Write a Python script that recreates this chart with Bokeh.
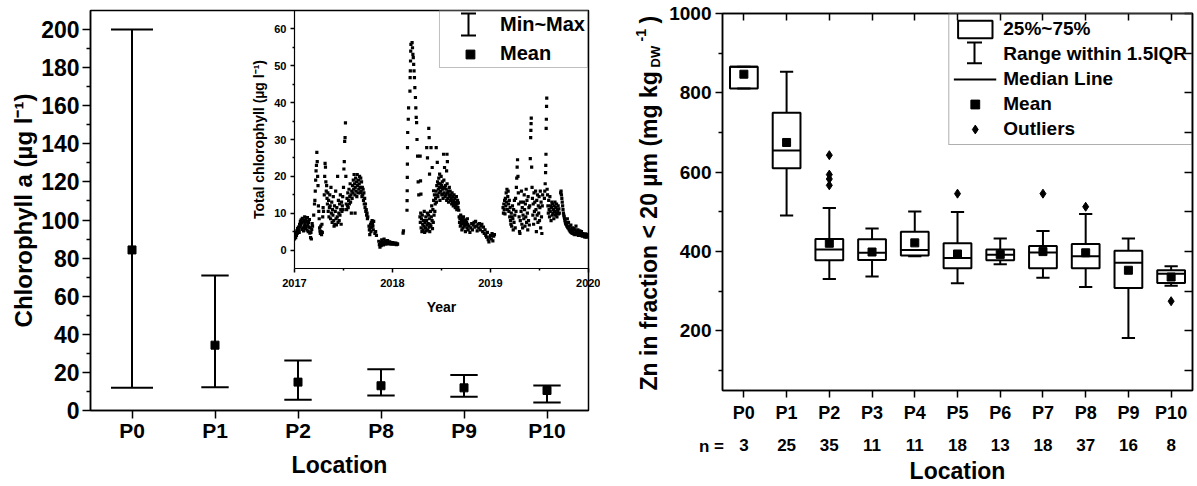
import numpy as np
from bokeh.plotting import figure
from bokeh.models import (ColumnDataSource, FixedTicker, Legend, LegendItem, Label,
                          LinearAxis, Range1d, Arrow, TeeHead)
from bokeh.embed import file_html
from bokeh.resources import INLINE

FONT = "Liberation Sans"

# ---------------- data: left panel (chlorophyll a) ----------------
chl_locations = ["P0", "P1", "P2", "P8", "P9", "P10"]
chl_min = [12.0, 12.2, 5.6, 7.9, 7.2, 4.2]
chl_max = [200.0, 70.9, 26.2, 21.7, 18.7, 13.1]
chl_mean = [84.3, 34.3, 14.9, 13.0, 11.9, 10.5]
chl_yticks = list(range(0, 201, 20))
chl_yminor = list(range(10, 200, 20))

# ---------------- data: inset (total chlorophyll time series) ----------------
inset_2017 = [
    (2017.000, 3.0), (2017.004, 3.6), (2017.008, 4.2), (2017.012, 3.4), (2017.016, 4.8), (2017.020, 4.0),
    (2017.024, 5.2), (2017.028, 4.5), (2017.032, 5.8), (2017.036, 5.0), (2017.040, 6.2), (2017.044, 5.5),
    (2017.048, 4.8), (2017.052, 7.0), (2017.056, 6.3), (2017.060, 7.8), (2017.064, 6.8), (2017.068, 8.2),
    (2017.072, 7.4), (2017.076, 5.6), (2017.080, 8.6), (2017.084, 6.0), (2017.088, 7.6), (2017.092, 5.2),
    (2017.096, 8.0), (2017.100, 6.6), (2017.104, 9.0), (2017.108, 7.2), (2017.112, 5.8), (2017.116, 8.4),
    (2017.120, 6.4), (2017.124, 7.8), (2017.128, 5.4), (2017.132, 8.8), (2017.136, 6.9), (2017.140, 5.0),
    (2017.144, 7.5), (2017.148, 6.2), (2017.152, 8.3), (2017.156, 4.6), (2017.160, 6.0), (2017.164, 3.4),
    (2017.168, 4.8), (2017.172, 3.0), (2017.176, 5.6), (2017.180, 7.2), (2017.184, 6.5), (2017.196, 9.5),
    (2017.204, 12.5), (2017.208, 13.5), (2017.212, 16.0), (2017.216, 19.0), (2017.220, 21.5), (2017.224, 23.0),
    (2017.228, 26.5), (2017.232, 24.0), (2017.236, 20.0), (2017.240, 17.5), (2017.244, 12.0), (2017.248, 10.5),
    (2017.252, 8.5), (2017.256, 6.0), (2017.260, 5.2), (2017.264, 4.5), (2017.268, 6.5), (2017.272, 5.0),
    (2017.276, 4.2), (2017.280, 7.0), (2017.284, 4.8), (2017.288, 9.0), (2017.292, 11.5), (2017.296, 10.5),
    (2017.304, 15.0), (2017.308, 20.0), (2017.312, 23.5), (2017.316, 22.5), (2017.320, 18.5), (2017.324, 16.0),
    (2017.328, 17.5), (2017.332, 14.0), (2017.336, 12.5), (2017.340, 15.5), (2017.344, 10.5), (2017.348, 13.5),
    (2017.352, 9.0), (2017.356, 11.5), (2017.360, 15.0), (2017.364, 12.0), (2017.368, 8.5), (2017.372, 17.0),
    (2017.376, 10.0), (2017.380, 13.0), (2017.384, 7.5), (2017.388, 11.0), (2017.392, 9.5), (2017.396, 14.5),
    (2017.400, 8.0), (2017.404, 6.5), (2017.408, 12.0), (2017.412, 7.0), (2017.416, 10.5), (2017.420, 16.0),
    (2017.424, 8.5), (2017.428, 6.8), (2017.432, 11.5), (2017.436, 9.0), (2017.440, 20.0), (2017.444, 7.5),
    (2017.448, 13.5), (2017.452, 10.0), (2017.456, 8.0), (2017.460, 12.5), (2017.464, 9.5), (2017.468, 15.0),
    (2017.472, 11.0), (2017.476, 7.0), (2017.480, 13.0), (2017.484, 10.5), (2017.488, 12.0), (2017.492, 14.5),
    (2017.496, 11.0), (2017.500, 17.0), (2017.504, 22.0), (2017.508, 24.0), (2017.512, 29.5), (2017.516, 30.5),
    (2017.520, 34.5), (2017.524, 20.0), (2017.528, 12.5), (2017.532, 11.0), (2017.536, 14.0), (2017.540, 12.0),
    (2017.544, 15.5), (2017.548, 11.5), (2017.552, 13.5), (2017.556, 16.5), (2017.560, 12.5), (2017.564, 14.5),
    (2017.568, 18.0), (2017.572, 13.0), (2017.576, 15.0), (2017.580, 10.0), (2017.584, 16.0), (2017.588, 14.0),
    (2017.592, 17.5), (2017.596, 15.5), (2017.600, 19.0), (2017.604, 16.5), (2017.608, 20.5), (2017.612, 18.0),
    (2017.616, 15.0), (2017.618, 10.0), (2017.620, 17.0), (2017.624, 19.5), (2017.628, 16.0), (2017.632, 18.5),
    (2017.636, 14.5), (2017.640, 20.5), (2017.644, 17.5), (2017.648, 15.5), (2017.652, 19.0), (2017.656, 16.5),
    (2017.660, 18.0), (2017.664, 20.0), (2017.668, 17.0), (2017.672, 15.5), (2017.676, 19.5), (2017.680, 16.0),
    (2017.684, 18.5), (2017.688, 14.5), (2017.692, 17.0), (2017.696, 15.0), (2017.700, 16.5), (2017.704, 13.5),
    (2017.708, 15.5), (2017.712, 12.5), (2017.716, 14.0), (2017.720, 11.5), (2017.724, 12.5), (2017.728, 10.5),
    (2017.732, 11.0), (2017.736, 9.5), (2017.740, 10.0), (2017.744, 8.5), (2017.748, 9.0), (2017.760, 6.5),
    (2017.764, 5.5), (2017.768, 4.2), (2017.772, 6.0), (2017.776, 7.0), (2017.780, 5.0), (2017.784, 7.5),
    (2017.788, 6.2), (2017.792, 8.0), (2017.796, 7.0), (2017.800, 6.5), (2017.804, 5.5), (2017.808, 7.8),
    (2017.820, 4.5), (2017.828, 5.0), (2017.836, 4.0), (2017.860, 2.4), (2017.866, 1.5), (2017.872, 0.8),
    (2017.878, 2.0), (2017.884, 1.2), (2017.890, 2.8), (2017.896, 1.6), (2017.902, 2.2), (2017.908, 1.4),
    (2017.914, 3.0), (2017.920, 1.9), (2017.926, 2.5), (2017.932, 1.6), (2017.938, 2.3), (2017.944, 1.8),
    (2017.950, 2.6), (2017.956, 2.0), (2017.962, 1.7), (2017.968, 2.2), (2017.974, 1.9), (2017.980, 2.1),
    (2017.986, 1.6), (2017.992, 1.9), (2017.998, 2.0),
]
inset_2018 = [
    (2018.004, 1.7), (2018.010, 1.9), (2018.016, 1.6), (2018.022, 1.8), (2018.028, 1.7), (2018.034, 1.9),
    (2018.040, 1.5), (2018.046, 1.7), (2018.052, 1.6), (2018.108, 4.6), (2018.112, 5.2), (2018.148, 10.8),
    (2018.149, 13.4), (2018.150, 16.1), (2018.151, 19.7), (2018.152, 23.3), (2018.153, 27.8), (2018.155, 31.9),
    (2018.161, 35.5), (2018.164, 38.6), (2018.178, 43.1), (2018.180, 46.8), (2018.182, 48.6), (2018.184, 51.3),
    (2018.186, 54.0), (2018.188, 55.8), (2018.200, 56.3), (2018.204, 54.9), (2018.208, 53.1), (2018.212, 52.2),
    (2018.216, 50.4), (2018.220, 48.6), (2018.224, 46.8), (2018.228, 44.1), (2018.234, 41.4), (2018.238, 38.6),
    (2018.242, 36.0), (2018.246, 34.6), (2018.250, 30.0), (2018.256, 25.5), (2018.262, 18.5), (2018.268, 15.0),
    (2018.280, 9.0), (2018.284, 7.5), (2018.288, 10.0), (2018.292, 6.0), (2018.296, 8.5), (2018.300, 5.0),
    (2018.304, 9.5), (2018.308, 7.0), (2018.312, 5.5), (2018.316, 8.0), (2018.320, 6.5), (2018.324, 10.5),
    (2018.328, 4.8), (2018.332, 7.5), (2018.336, 6.0), (2018.340, 9.0), (2018.344, 5.2), (2018.348, 8.0),
    (2018.352, 6.8), (2018.356, 10.0), (2018.360, 5.5), (2018.364, 7.2), (2018.368, 9.5), (2018.372, 6.2),
    (2018.376, 8.5), (2018.380, 5.0), (2018.384, 7.0), (2018.388, 10.5), (2018.392, 6.5), (2018.396, 9.0),
    (2018.400, 12.0), (2018.404, 8.0), (2018.408, 5.8), (2018.412, 11.0), (2018.416, 7.5), (2018.420, 13.5),
    (2018.424, 9.5), (2018.428, 15.0), (2018.432, 10.5), (2018.436, 12.5), (2018.282, 25.5), (2018.286, 18.8),
    (2018.290, 15.2), (2018.349, 27.8), (2018.357, 25.0), (2018.370, 33.0), (2018.374, 30.5), (2018.378, 20.6),
    (2018.393, 27.8), (2018.405, 22.4), (2018.419, 16.1), (2018.446, 27.8), (2018.457, 23.8), (2018.471, 18.0),
    (2018.481, 20.6), (2018.493, 17.0), (2018.509, 15.2), (2018.521, 26.0), (2018.531, 22.4), (2018.440, 14.0),
    (2018.444, 16.0), (2018.448, 13.0), (2018.452, 17.5), (2018.456, 15.0), (2018.460, 18.5), (2018.464, 14.5),
    (2018.468, 16.5), (2018.472, 19.5), (2018.476, 15.5), (2018.480, 17.0), (2018.484, 13.5), (2018.488, 18.0),
    (2018.492, 16.0), (2018.496, 20.0), (2018.500, 17.5), (2018.504, 15.0), (2018.508, 18.5), (2018.512, 16.5),
    (2018.516, 14.0), (2018.520, 17.0), (2018.524, 19.0), (2018.528, 15.5), (2018.532, 16.8), (2018.536, 14.5),
    (2018.540, 17.5), (2018.544, 15.0), (2018.548, 16.5), (2018.552, 21.5), (2018.553, 13.5), (2018.556, 26.0),
    (2018.557, 18.0), (2018.560, 24.0), (2018.561, 15.5), (2018.564, 14.0), (2018.568, 16.0), (2018.572, 13.0),
    (2018.576, 15.0), (2018.580, 17.0), (2018.584, 14.5), (2018.588, 16.0), (2018.592, 13.5), (2018.596, 15.0),
    (2018.600, 14.0), (2018.604, 12.5), (2018.608, 15.5), (2018.612, 13.0), (2018.616, 14.5), (2018.620, 12.0),
    (2018.624, 13.5), (2018.628, 15.0), (2018.632, 12.5), (2018.636, 14.0), (2018.640, 11.5), (2018.644, 13.0),
    (2018.648, 12.0), (2018.652, 14.5), (2018.656, 11.0), (2018.660, 12.5), (2018.664, 13.5), (2018.668, 11.5),
    (2018.672, 12.8), (2018.676, 10.8), (2018.680, 9.0), (2018.684, 7.5), (2018.688, 8.5), (2018.692, 6.5),
    (2018.696, 9.5), (2018.700, 7.0), (2018.704, 8.0), (2018.708, 5.5), (2018.712, 8.8), (2018.716, 7.2),
    (2018.720, 6.0), (2018.724, 9.0), (2018.728, 7.8), (2018.732, 6.5), (2018.736, 8.2), (2018.740, 7.0),
    (2018.744, 5.0), (2018.748, 8.0), (2018.752, 6.8), (2018.756, 7.5), (2018.760, 6.0), (2018.764, 8.5),
    (2018.768, 7.0), (2018.772, 5.5), (2018.780, 6.5), (2018.790, 4.8), (2018.800, 6.0), (2018.808, 7.2),
    (2018.816, 5.5), (2018.824, 6.8), (2018.832, 7.5), (2018.840, 6.2), (2018.848, 7.8), (2018.856, 6.5),
    (2018.864, 5.2), (2018.872, 7.0), (2018.880, 6.0), (2018.888, 7.2), (2018.896, 5.5), (2018.904, 6.5),
    (2018.912, 7.0), (2018.920, 5.0), (2018.928, 6.2), (2018.936, 4.5), (2018.944, 5.5), (2018.952, 4.0),
    (2018.960, 3.5), (2018.968, 4.8), (2018.976, 2.8), (2018.984, 2.2), (2018.992, 3.5),
]
inset_2019 = [
    (2019.000, 4.0), (2019.008, 3.0), (2019.016, 4.5), (2019.024, 2.5), (2019.032, 3.8), (2019.040, 4.2),
    (2019.128, 11.5), (2019.132, 10.0), (2019.136, 12.5), (2019.140, 11.0), (2019.144, 13.5), (2019.148, 9.8),
    (2019.152, 14.0), (2019.156, 12.0), (2019.160, 15.5), (2019.164, 13.0), (2019.168, 16.5), (2019.172, 11.0),
    (2019.176, 14.5), (2019.180, 16.0), (2019.184, 12.5), (2019.188, 10.5), (2019.192, 13.5), (2019.196, 9.0),
    (2019.200, 11.5), (2019.204, 8.0), (2019.208, 7.0), (2019.212, 10.0), (2019.216, 6.5), (2019.220, 9.0),
    (2019.224, 12.0), (2019.228, 8.5), (2019.232, 5.5), (2019.236, 11.0), (2019.240, 7.5), (2019.244, 13.5),
    (2019.248, 9.5), (2019.252, 6.0), (2019.256, 14.0), (2019.260, 10.5), (2019.264, 17.0), (2019.268, 19.5),
    (2019.272, 22.5), (2019.276, 24.5), (2019.280, 20.0), (2019.284, 15.5), (2019.288, 12.5), (2019.292, 9.0),
    (2019.296, 5.0), (2019.300, 4.5), (2019.304, 8.0), (2019.308, 13.0), (2019.312, 10.5), (2019.316, 16.0),
    (2019.320, 7.0), (2019.324, 11.5), (2019.328, 6.0), (2019.332, 9.5), (2019.336, 13.0), (2019.340, 8.5),
    (2019.344, 15.0), (2019.348, 11.0), (2019.352, 6.5), (2019.356, 12.5), (2019.360, 9.0), (2019.364, 16.5),
    (2019.368, 7.5), (2019.372, 13.5), (2019.376, 10.0), (2019.380, 5.5), (2019.384, 14.5), (2019.388, 8.0),
    (2019.392, 11.5), (2019.396, 6.8), (2019.400, 12.0), (2019.406, 24.8), (2019.410, 30.5), (2019.412, 32.5),
    (2019.414, 34.3), (2019.416, 35.8), (2019.420, 22.5), (2019.424, 17.0), (2019.428, 14.0), (2019.432, 9.5),
    (2019.436, 12.5), (2019.440, 7.0), (2019.444, 15.5), (2019.448, 10.5), (2019.452, 13.0), (2019.456, 8.5),
    (2019.460, 16.0), (2019.464, 11.0), (2019.468, 5.0), (2019.472, 13.5), (2019.476, 9.5), (2019.480, 15.0),
    (2019.484, 7.5), (2019.488, 12.0), (2019.492, 10.0), (2019.496, 14.5), (2019.500, 8.0), (2019.504, 11.5),
    (2019.508, 16.0), (2019.512, 6.0), (2019.516, 13.0), (2019.520, 9.0), (2019.524, 4.5), (2019.528, 12.0),
    (2019.532, 15.0), (2019.550, 14.0), (2019.554, 16.0), (2019.558, 18.0), (2019.562, 21.0), (2019.564, 23.0),
    (2019.566, 26.0), (2019.568, 33.0), (2019.570, 35.5), (2019.572, 39.0), (2019.574, 41.2), (2019.578, 16.5),
    (2019.582, 15.0), (2019.586, 12.0), (2019.590, 10.0), (2019.594, 13.5), (2019.598, 11.0), (2019.602, 9.0),
    (2019.606, 14.5), (2019.610, 10.5), (2019.614, 12.0), (2019.618, 8.0), (2019.622, 11.5), (2019.626, 13.0),
    (2019.630, 9.5), (2019.634, 12.5), (2019.638, 10.0), (2019.642, 11.0), (2019.646, 8.5), (2019.650, 12.0),
    (2019.654, 10.5), (2019.658, 13.0), (2019.662, 9.5), (2019.666, 11.5), (2019.670, 10.0), (2019.674, 12.5),
    (2019.678, 9.0), (2019.682, 11.0), (2019.686, 10.5), (2019.690, 12.0), (2019.694, 9.8), (2019.698, 11.2),
    (2019.702, 10.0), (2019.716, 15.5), (2019.720, 16.0), (2019.724, 15.0), (2019.728, 14.0), (2019.732, 13.0),
    (2019.736, 12.0), (2019.740, 11.0), (2019.744, 10.0), (2019.748, 9.5), (2019.752, 9.0), (2019.756, 8.5),
    (2019.760, 8.0), (2019.764, 7.6), (2019.768, 7.2), (2019.772, 7.0), (2019.776, 6.8), (2019.780, 6.5),
    (2019.784, 8.5), (2019.788, 6.2), (2019.792, 6.0), (2019.796, 7.5), (2019.800, 5.8), (2019.804, 5.5),
    (2019.808, 6.5), (2019.812, 5.2), (2019.816, 5.0), (2019.820, 6.8), (2019.824, 4.8), (2019.828, 5.5),
    (2019.832, 4.6), (2019.836, 6.0), (2019.840, 4.5), (2019.844, 5.2), (2019.848, 4.4), (2019.852, 5.8),
    (2019.856, 4.5), (2019.860, 4.2), (2019.864, 5.5), (2019.868, 4.4), (2019.872, 6.5), (2019.876, 4.8),
    (2019.880, 5.0), (2019.884, 4.3), (2019.888, 4.6), (2019.892, 5.5), (2019.896, 4.0), (2019.900, 4.4),
    (2019.904, 4.8), (2019.908, 4.2), (2019.912, 5.2), (2019.916, 4.5), (2019.920, 4.0), (2019.924, 4.6),
    (2019.928, 5.0), (2019.932, 4.2), (2019.936, 3.8), (2019.940, 4.5), (2019.944, 4.0), (2019.948, 4.3),
    (2019.952, 3.9), (2019.956, 4.1), (2019.960, 3.6), (2019.964, 4.2), (2019.968, 3.8), (2019.972, 4.4),
    (2019.976, 3.5), (2019.980, 4.0), (2019.984, 3.8), (2019.988, 4.2), (2019.992, 3.6), (2019.996, 4.0),
    (2020.000, 3.8),
]
inset_xticks = [2017, 2018, 2019, 2020]
inset_xminor = [2017.5, 2018.5, 2019.5]
inset_yticks = [0, 10, 20, 30, 40, 50, 60]
inset_yminor = [5, 15, 25, 35, 45, 55]

# ---------------- data: right panel (Zn box plots) ----------------
zn_locations = ["P0", "P1", "P2", "P3", "P4", "P5", "P6", "P7", "P8", "P9", "P10"]
zn_n = [3, 25, 35, 11, 11, 18, 13, 18, 37, 16, 8]
zn_q1 = [811, 610, 378, 379, 390, 358, 378, 358, 358, 308, 321]
zn_median = [866, 655, 405, 397, 404, 384, 392, 398, 388, 372, 344]
zn_q3 = [866, 750, 432, 431, 450, 421, 405, 414, 419, 402, 353]
zn_mean = [847, 675, 421, 399, 422, 394, 393, 400, 397, 353, 336]
zn_whisker_low = [811, 491, 331, 337, 388, 320, 368, 334, 311, 182, 314]
zn_whisker_high = [866, 853, 510, 458, 501, 500, 433, 452, 495, 433, 363]
zn_outlier_loc = ["P2", "P2", "P2", "P2", "P5", "P7", "P8", "P10"]
zn_outlier_val = [643, 594, 583, 567, 546, 546, 513, 275]
zn_yticks = [200, 400, 600, 800, 1000]
zn_yminor = [100, 300, 500, 700, 900]
zn_right_ticks = [100, 200, 300, 400, 500, 600, 700, 800, 900, 1000]

# ---------------- layout geometry (page pixels, page origin top-left) ----------------
L_X0, L_W, L_H = 0, 600, 486
L_LEFT, L_RIGHT, L_TOP, L_BOTTOM = 90, 588, 10, 410
R_X0, R_W, R_H = 600, 597, 486
R_LEFT, R_RIGHT, R_TOP, R_BOTTOM = 722, 1192, 13, 391
L_XR, L_YR = (-0.5, 5.5), (0, 210)
R_XR, R_YR = (-0.5, 10.5), (50, 1000)


def lx(px):
    return L_XR[0] + (px - L_LEFT) * (L_XR[1] - L_XR[0]) / (L_RIGHT - L_LEFT)


def ly(py):
    return L_YR[0] + (L_BOTTOM - py) * (L_YR[1] - L_YR[0]) / (L_BOTTOM - L_TOP)


def rx(px):
    return R_XR[0] + (px - R_LEFT) * (R_XR[1] - R_XR[0]) / (R_RIGHT - R_LEFT)


def ry(py):
    return R_YR[0] + (R_BOTTOM - py) * (R_YR[1] - R_YR[0]) / (R_BOTTOM - R_TOP)


def place(x0, y0):
    return {"position": "absolute", "left": f"{x0}px", "top": f"{y0}px"}


def style_axis(ax, label_size, tick_out, minor_out=0):
    ax.axis_line_color = "black"
    ax.axis_line_width = 1.5
    ax.major_tick_line_color = "black"
    ax.major_tick_line_width = 1.5
    ax.minor_tick_line_color = "black"
    ax.minor_tick_line_width = 1.5
    ax.major_tick_in = 0
    ax.major_tick_out = tick_out
    ax.minor_tick_in = 0
    ax.minor_tick_out = minor_out
    ax.major_label_text_font = FONT
    ax.major_label_text_font_style = "bold"
    ax.major_label_text_font_size = label_size
    ax.major_label_text_color = "black"
    ax.axis_label_text_font = FONT
    ax.axis_label_text_font_style = "bold"
    ax.axis_label_text_color = "black"


# ======================= LEFT PANEL =======================
left = figure(width=L_W, height=L_H, x_range=Range1d(*L_XR), y_range=Range1d(*L_YR),
              output_backend="svg", toolbar_location=None,
              min_border_left=L_LEFT - L_X0, min_border_right=L_X0 + L_W - L_RIGHT,
              min_border_top=L_TOP, min_border_bottom=L_H - L_BOTTOM,
              outline_line_color="black", outline_line_width=1.5,
              styles=place(L_X0, 0))
left.grid.visible = False

lx_idx = np.arange(len(chl_locations))
cap_hw = np.where(lx_idx == 0, 0.253, 0.165)
lsrc = ColumnDataSource(dict(x=lx_idx, lo=chl_min, hi=chl_max, mean=chl_mean,
                             c0=lx_idx - cap_hw, c1=lx_idx + cap_hw))
left.segment(x0="x", y0="lo", x1="x", y1="hi", source=lsrc, line_color="black", line_width=2)
left.segment(x0="c0", y0="hi", x1="c1", y1="hi", source=lsrc, line_color="black", line_width=2)
left.segment(x0="c0", y0="lo", x1="c1", y1="lo", source=lsrc, line_color="black", line_width=2)
mean_l = left.scatter("x", "mean", source=lsrc, marker="square", size=8,
                      fill_color="black", line_color="black")
dummy_l = left.scatter(x=[], y=[], size=0, fill_alpha=0, line_alpha=0)

yax = left.yaxis[0]
yax.ticker = FixedTicker(ticks=chl_yticks, minor_ticks=chl_yminor)
style_axis(yax, "23px", 8, 4)
yax.major_label_standoff = 3
yax.axis_label = "Chlorophyll a (µg l⁻¹)"
yax.axis_label_text_font_size = "24px"
yax.axis_label_standoff = 1

xax = left.xaxis[0]
xax.ticker = FixedTicker(ticks=list(lx_idx), minor_ticks=[])
xax.major_label_overrides = {int(i): n for i, n in zip(lx_idx, chl_locations)}
style_axis(xax, "21px", 8)
xax.major_label_standoff = 0
xax.axis_label = "Location"
xax.axis_label_text_font_size = "23px"
xax.axis_label_standoff = 7

leg_l = Legend(items=[LegendItem(label="Min~Max", renderers=[dummy_l]),
                      LegendItem(label="Mean", renderers=[mean_l])],
               location="top_right", margin=0, padding=2, spacing=6,
               glyph_width=56, glyph_height=22, label_standoff=2,
               label_text_font=FONT, label_text_font_style="bold", label_text_font_size="20px",
               label_text_color="black",
               border_line_color="#808080", border_line_width=1, background_fill_alpha=0)
left.add_layout(leg_l)
left.add_layout(Arrow(x_start=lx(468), y_start=ly(35), x_end=lx(468), y_end=ly(13),
                      start=TeeHead(size=15, line_width=2), end=TeeHead(size=15, line_width=2),
                      line_width=2, line_color="black"))

# ======================= INSET =======================
inset_pts = inset_2017 + inset_2018 + inset_2019
I_X0, I_W, I_H = 248, 352, 328
I_LEFT, I_RIGHT, I_TOP, I_BOTTOM = 292, 588, 10, 268
inset = figure(width=I_W, height=I_H, x_range=Range1d(2017, 2020), y_range=Range1d(-5, 65),
               output_backend="svg", toolbar_location=None,
               min_border_left=I_LEFT - I_X0, min_border_right=I_X0 + I_W - I_RIGHT,
               min_border_top=I_TOP, min_border_bottom=I_H - I_BOTTOM,
               background_fill_alpha=0, border_fill_alpha=0, outline_line_color=None,
               styles=place(I_X0, 0))
inset.grid.visible = False
isrc = ColumnDataSource(dict(year=[p[0] for p in inset_pts], chl=[p[1] for p in inset_pts]))
inset.scatter("year", "chl", source=isrc, marker="square", size=3.2,
              fill_color="black", line_color=None)
iy = inset.yaxis[0]
iy.ticker = FixedTicker(ticks=inset_yticks, minor_ticks=inset_yminor)
style_axis(iy, "11px", 4, 2)
iy.axis_line_width = 1.2
iy.major_label_standoff = 4
iy.axis_label = "Total chlorophyll (µg l⁻¹)"
iy.axis_label_text_font_size = "14px"
iy.axis_label_standoff = 4
ix = inset.xaxis[0]
ix.ticker = FixedTicker(ticks=inset_xticks, minor_ticks=inset_xminor)
style_axis(ix, "11px", 4, 2)
ix.axis_line_width = 1.2
ix.major_label_standoff = 6
ix.axis_label = "Year"
ix.axis_label_text_font_size = "14px"
ix.axis_label_standoff = 9

# ======================= RIGHT PANEL =======================
right = figure(width=R_W, height=R_H, x_range=Range1d(*R_XR), y_range=Range1d(*R_YR),
               output_backend="svg", toolbar_location=None,
               min_border_left=R_LEFT - R_X0, min_border_right=R_X0 + R_W - R_RIGHT,
               min_border_top=R_TOP, min_border_bottom=R_H - R_BOTTOM,
               outline_line_color="black", outline_line_width=1.5,
               styles=place(R_X0, 0))
right.grid.visible = False

ridx = np.arange(len(zn_locations))
BOX_HW, CAP_HW = 0.325, 0.155
rsrc = ColumnDataSource(dict(x=ridx, q1=zn_q1, q3=zn_q3, med=zn_median, mean=zn_mean,
                             wl=zn_whisker_low, wh=zn_whisker_high,
                             b0=ridx - BOX_HW, b1=ridx + BOX_HW, c0=ridx - CAP_HW, c1=ridx + CAP_HW))
right.segment(x0="x", y0="q3", x1="x", y1="wh", source=rsrc, line_color="black", line_width=2)
right.segment(x0="x", y0="q1", x1="x", y1="wl", source=rsrc, line_color="black", line_width=2)
right.segment(x0="c0", y0="wh", x1="c1", y1="wh", source=rsrc, line_color="black", line_width=2)
right.segment(x0="c0", y0="wl", x1="c1", y1="wl", source=rsrc, line_color="black", line_width=2)
box_r = right.vbar(x="x", width=2 * BOX_HW, top="q3", bottom="q1", source=rsrc,
                   fill_color=None, line_color="black", line_width=2)
med_r = right.segment(x0="b0", y0="med", x1="b1", y1="med", source=rsrc,
                      line_color="black", line_width=2)
mean_r = right.scatter("x", "mean", source=rsrc, marker="square", size=8,
                       fill_color="black", line_color="black")
osrc = ColumnDataSource(dict(x=[zn_locations.index(l) for l in zn_outlier_loc], y=zn_outlier_val))
out_r = right.scatter("x", "y", source=osrc, marker="diamond", size=9,
                      fill_color="black", line_color="black")
dummy_r = right.scatter(x=[], y=[], size=0, fill_alpha=0, line_alpha=0)

ry_ax = right.yaxis[0]
ry_ax.ticker = FixedTicker(ticks=zn_yticks, minor_ticks=zn_yminor)
style_axis(ry_ax, "19px", 7, 4)
ry_ax.major_label_standoff = 4

rx_ax = right.xaxis[0]
rx_ax.ticker = FixedTicker(ticks=list(ridx), minor_ticks=[])
rx_ax.major_label_overrides = {int(i): n for i, n in zip(ridx, zn_locations)}
style_axis(rx_ax, "18px", 7)
rx_ax.major_label_standoff = 5

n_ax = LinearAxis(ticker=FixedTicker(ticks=list(ridx), minor_ticks=[]))
n_ax.major_label_overrides = {int(i): str(n) for i, n in zip(ridx, zn_n)}
style_axis(n_ax, "17px", 0)
n_ax.axis_line_color = None
n_ax.major_tick_line_color = None
n_ax.minor_tick_line_color = None
n_ax.major_label_standoff = 13
n_ax.axis_label = "Location"
n_ax.axis_label_text_font_size = "23px"
n_ax.axis_label_standoff = 4
right.add_layout(n_ax, "below")

top_ax = LinearAxis(ticker=FixedTicker(ticks=list(ridx), minor_ticks=[]))
style_axis(top_ax, "0px", 0)
top_ax.major_tick_in = 7
top_ax.major_label_standoff = 0
top_ax.major_label_overrides = {int(i): "" for i in ridx}
right.add_layout(top_ax, "above")

side_ax = LinearAxis(ticker=FixedTicker(ticks=zn_right_ticks, minor_ticks=[]))
style_axis(side_ax, "0px", 0)
side_ax.major_tick_in = 8
side_ax.major_label_standoff = 0
side_ax.major_label_overrides = {int(t): "" for t in zn_right_ticks}
right.add_layout(side_ax, "right")

leg_r = Legend(items=[LegendItem(label="25%~75%", renderers=[box_r]),
                      LegendItem(label="Range within 1.5IQR", renderers=[dummy_r]),
                      LegendItem(label="Median Line", renderers=[med_r]),
                      LegendItem(label="Mean", renderers=[mean_r]),
                      LegendItem(label="Outliers", renderers=[out_r])],
               location="top_right", margin=0, padding=4, spacing=3,
               glyph_width=43, glyph_height=22, label_standoff=7,
               label_text_font=FONT, label_text_font_style="bold", label_text_font_size="19px",
               label_text_color="black",
               border_line_color="#606060", border_line_width=1, background_fill_alpha=0)
right.add_layout(leg_r)
right.add_layout(Arrow(x_start=rx(974), y_start=ry(63), x_end=rx(974), y_end=ry(42),
                       start=TeeHead(size=15, line_width=2), end=TeeHead(size=15, line_width=2),
                       line_width=2, line_color="black"))

# ======================= TEXT LAYER (y title with sub/superscript, "n =") =======================
A_X0, A_W = 600, 130
anno = figure(width=A_W, height=R_H, x_range=Range1d(A_X0, A_X0 + A_W), y_range=Range1d(R_H, 0),
              output_backend="svg", toolbar_location=None, x_axis_location=None, y_axis_location=None,
              min_border=0, min_border_left=0, min_border_right=0, min_border_top=0, min_border_bottom=0,
              background_fill_alpha=0, border_fill_alpha=0, outline_line_color=None,
              styles=place(A_X0, 0))
anno.grid.visible = False
title_pieces = [
    ("Zn in fraction < 20 µm (mg kg", 648, 390, "23px"),
    ("DW", 655, 67, "13px"),
    ("-1", 640, 41, "14px"),
    (")", 648, 23, "23px"),
]
for txt, px, py, fs in title_pieces:
    anno.add_layout(Label(x=px, y=py, text=txt, angle=np.pi / 2,
                          text_font=FONT, text_font_style="bold", text_font_size=fs,
                          text_align="left", text_baseline="middle", text_color="black"))
anno.add_layout(Label(x=711, y=446, text="n =", text_font=FONT, text_font_style="bold",
                      text_font_size="17px", text_align="center", text_baseline="middle",
                      text_color="black"))

page = [left, right, inset, anno]
open("out.html", "w").write(file_html(page, INLINE))
